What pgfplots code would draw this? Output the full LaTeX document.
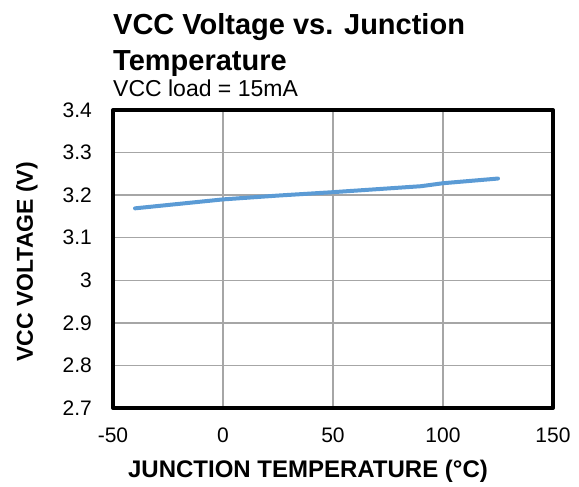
\documentclass[border=0pt]{standalone}
\usepackage{fontspec}
\setmainfont{Liberation Sans}
\usepackage{pgfplots}
\pgfplotsset{compat=1.18}
\definecolor{lineblue}{RGB}{91,155,213}
\definecolor{gridgray}{RGB}{166,166,166}
\begin{document}
\begin{tikzpicture}
\useasboundingbox (-113pt,-79pt) rectangle (466pt,408pt);
\begin{axis}[
  scale only axis,
  width=440pt, height=298pt,
  at={(0,0)}, anchor=south west,
  xmin=-50, xmax=150, ymin=2.7, ymax=3.4,
  xtick={-50,0,50,100,150},
  ytick={2.7,2.8,2.9,3.0,3.1,3.2,3.3,3.4},
  yticklabels={2.7,2.8,2.9,3,3.1,3.2,3.3,3.4},
  xmajorgrids, ymajorgrids,
  major grid style={gridgray, line width=1.3pt},
  major tick length=0pt,
  axis line style={black, line width=4pt, line join=round},
  /pgf/number format/assume math mode=true,
  ticklabel style={font=\fontsize{21}{25}\selectfont, inner sep=0pt},
  xticklabel style={yshift=-20pt},
  yticklabel style={xshift=-21pt},
  clip=false,
]
\addplot[lineblue, line width=4pt, line cap=round, line join=round] coordinates {
(-40,3.169) (0,3.190) (25,3.199) (50,3.207) (90,3.221) (100,3.228) (125,3.239)
};
\end{axis}
\node[anchor=base west, inner sep=0pt, font=\fontsize{29}{34}\bfseries] at (0pt,373pt) {VCC Voltage vs. Junction};
\node[anchor=base west, inner sep=0pt, font=\fontsize{29}{34}\bfseries] at (0pt,337pt) {Temperature};
\node[anchor=base west, inner sep=0pt, font=\fontsize{23}{27}\selectfont] at (0pt,311pt) {VCC load = 15mA};
\node[anchor=base, inner sep=0pt, font=\fontsize{24}{28}\bfseries] at (195pt,-70pt) {JUNCTION TEMPERATURE (°C)};
\node[anchor=base, inner sep=0pt, rotate=90, font=\fontsize{23}{27}\bfseries] at (-80pt,146pt) {VCC VOLTAGE (V)};
\end{tikzpicture}
\end{document}
